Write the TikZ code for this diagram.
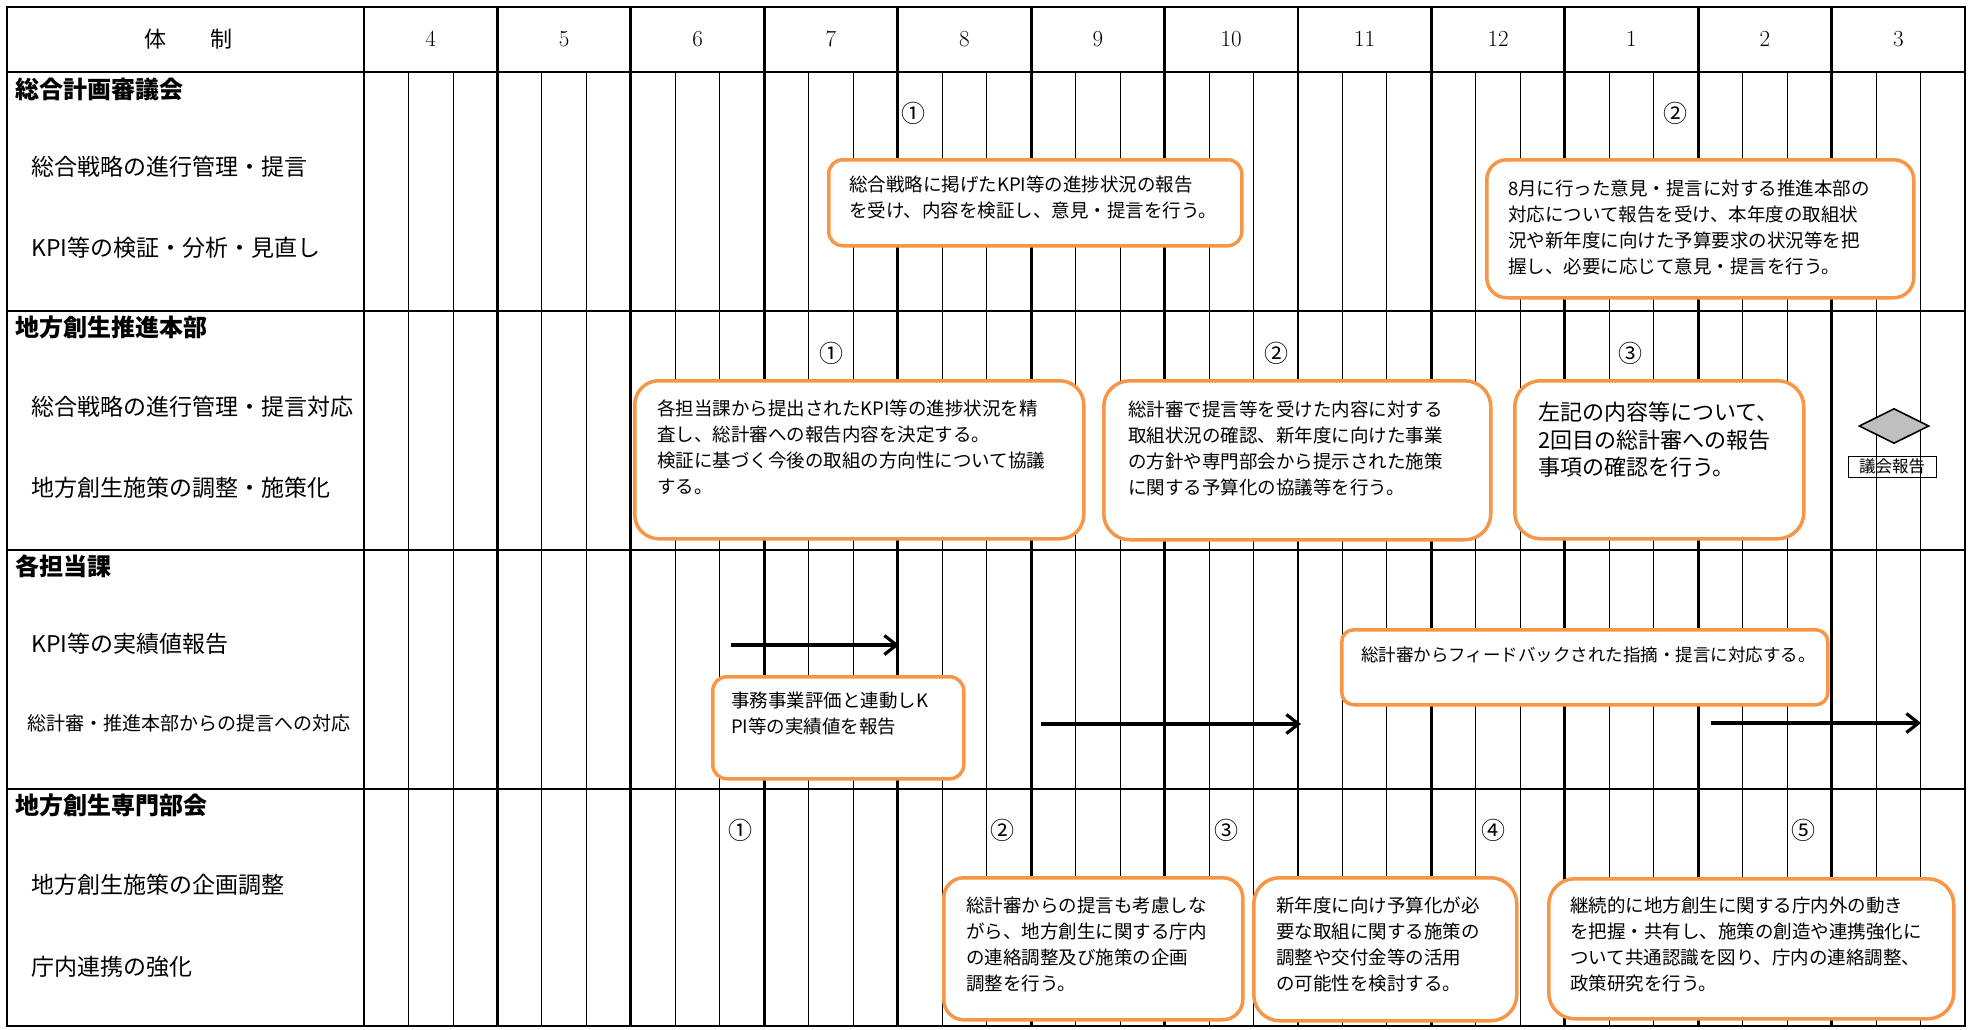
\documentclass[tikz,border=0pt]{standalone}
\usepackage{fontspec}
\newfontfamily\jp{Noto Sans CJK JP}
\usetikzlibrary{shapes.geometric,arrows.meta}
\definecolor{orng}{HTML}{F79646}
\definecolor{dgray}{HTML}{BFBFBF}
\tikzset{
  thickln/.style={line width=2.8pt},
  thinln/.style={line width=0.9pt},
  obox/.style={draw=orng, line width=3.5pt, fill=white, rounded corners=#1, inner sep=0, anchor=north west},
  obox/.default=14pt,
  btxt/.style={font=\jp\fontsize{18.5}{26}\selectfont, align=left, inner sep=0, anchor=west},
  sect/.style={font=\jp\bfseries\fontsize{24}{28}\selectfont, anchor=west, inner sep=0},
  item/.style={font=\jp\fontsize{23}{28}\selectfont, anchor=west, inner sep=0},
  circ/.style={font=\jp\fontsize{24}{26}\selectfont, inner sep=0},
  hdr/.style={font=\fontsize{23}{26}\selectfont, inner sep=0},
  arr/.style={line width=3.2pt, -{Straight Barb[length=12pt,width=19pt,line width=3.2pt]}},
}
\begin{document}
\begin{tikzpicture}[x=1pt,y=-1pt]
\useasboundingbox (0,0) rectangle (1969,1029);
\fill[white] (0,0) rectangle (1969,1029);
% grid: thin sub-columns
\foreach \k in {0,...,11} {
  \draw[thinln] ({364+133.42*\k+44.47},72) -- ({364+133.42*\k+44.47},1026);
  \draw[thinln] ({364+133.42*\k+88.95},72) -- ({364+133.42*\k+88.95},1026);
}
% month boundaries
\foreach \k in {0,...,11} \draw[thickln] ({364+133.42*\k},7) -- ({364+133.42*\k},1026);
% horizontal lines
\foreach \yy in {72,311,550,789} \draw[thickln] (7,\yy) -- (1965,\yy);
\draw[thickln] (7,7) rectangle (1965,1026);

% header
\node[font=\jp\fontsize{22}{26}\selectfont, inner sep=0] (hd) at (188,39) {体　　制};
\foreach \lbl [count=\i from 0] in {4,5,6,7,8,9,10,11,12,1,2,3}
  \node[hdr] (m\i) at ({364+133.42*(\i+0.5)},39) {\lbl};

% section titles and items
\node[sect] (s1) at (15,89) {総合計画審議会};
\node[item] (s1a) at (31,167) {総合戦略の進行管理・提言};
\node[item] (s1b) at (31,248) {KPI等の検証・分析・見直し};
\node[sect] (s2) at (15,327) {地方創生推進本部};
\node[item] (s2a) at (31,407) {総合戦略の進行管理・提言対応};
\node[item] (s2b) at (31,488) {地方創生施策の調整・施策化};
\node[sect] (s3) at (15,566) {各担当課};
\node[item] (s3a) at (31,644) {KPI等の実績値報告};
\node[item, font=\jp\fontsize{19}{24}\selectfont] (s3b) at (27,723) {総計審・推進本部からの提言への対応};
\node[sect] (s4) at (15,805) {地方創生専門部会};
\node[item] (s4a) at (31,885) {地方創生施策の企画調整};
\node[item] (s4b) at (31,967) {庁内連携の強化};

% circled numbers
\node[circ] (c11) at (913,113) {①};
\node[circ] (c12) at (1675,113) {②};
\node[circ] (c21) at (831,353) {①};
\node[circ] (c22) at (1276,353) {②};
\node[circ] (c23) at (1630,353) {③};
\node[circ] (c41) at (740,830) {①};
\node[circ] (c42) at (1002,830) {②};
\node[circ] (c43) at (1226,830) {③};
\node[circ] (c44) at (1493,830) {④};
\node[circ] (c45) at (1803,830) {⑤};

% boxes
\node[obox, minimum width=413pt, minimum height=86pt] (bA) at (827,158) {};
\node[btxt] (tA) at (849,197) {総合戦略に掲げたKPI等の進捗状況の報告\\を受け、内容を検証し、意見・提言を行う。};

\node[obox=20pt, minimum width=427pt, minimum height=138pt] (bB) at (1485,158) {};
\node[btxt] (tB) at (1508,227.5) {8月に行った意見・提言に対する推進本部の\\対応について報告を受け、本年度の取組状\\況や新年度に向けた予算要求の状況等を把\\握し、必要に応じて意見・提言を行う。};

\node[obox=24pt, minimum width=449pt, minimum height=158pt] (bC) at (633,379) {};
\node[btxt] (tC) at (657,447.5) {各担当課から提出されたKPI等の進捗状況を精\\査し、総計審への報告内容を決定する。\\検証に基づく今後の取組の方向性について協議\\する。};

\node[obox=26pt, minimum width=387pt, minimum height=159pt] (bD) at (1102,379) {};
\node[btxt] (tD) at (1128,448.5) {総計審で提言等を受けた内容に対する\\取組状況の確認、新年度に向けた事業\\の方針や専門部会から提示された施策\\に関する予算化の協議等を行う。};

\node[obox=26pt, minimum width=289pt, minimum height=158pt] (bE) at (1513,379) {};
\node[btxt, font=\jp\fontsize{22}{27.5}\selectfont] (tE) at (1538,440) {左記の内容等について、\\2回目の総計審への報告\\事項の確認を行う。};

\node[diamond, draw, fill=dgray, line width=1.6pt, minimum width=70pt, minimum height=35pt, inner sep=0, shape aspect=2] (dm) at (1894,426) {};
\node[draw, line width=1pt, minimum width=88pt, minimum height=21pt, inner sep=0, font=\jp\fontsize{16.5}{18}\selectfont] (gk) at (1892,466.5) {議会報告};

\node[obox, minimum width=251pt, minimum height=102pt] (bF) at (711,675) {};
\node[btxt] (tF) at (731,714) {事務事業評価と連動しK\\PI等の実績値を報告};

\node[obox=12pt, minimum width=486pt, minimum height=75pt] (bG) at (1340,628) {};
\node[btxt, font=\jp\fontsize{17.5}{24}\selectfont] (tG) at (1361,655) {総計審からフィードバックされた指摘・提言に対応する。};

\node[obox=20pt, minimum width=299pt, minimum height=142pt] (bH) at (942,876) {};
\node[btxt] (tH) at (966,944) {総計審からの提言も考慮しな\\がら、地方創生に関する庁内\\の連絡調整及び施策の企画\\調整を行う。};

\node[obox=26pt, minimum width=263pt, minimum height=143pt] (bI) at (1252,876) {};
\node[btxt] (tI) at (1276,944) {新年度に向け予算化が必\\要な取組に関する施策の\\調整や交付金等の活用\\の可能性を検討する。};

\node[obox=26pt, minimum width=405pt, minimum height=140pt] (bJ) at (1547,877) {};
\node[btxt] (tJ) at (1570,944) {継続的に地方創生に関する庁内外の動き\\を把握・共有し、施策の創造や連携強化に\\ついて共通認識を図り、庁内の連絡調整、\\政策研究を行う。};

% arrows
\coordinate (a1s) at (731,645); \coordinate (a1e) at (899,645);
\coordinate (a2s) at (1041,724); \coordinate (a2e) at (1301,724);
\coordinate (a3s) at (1711,723); \coordinate (a3e) at (1921,723);
\draw[arr] (a1s) -- (a1e);
\draw[arr] (a2s) -- (a2e);
\draw[arr] (a3s) -- (a3e);
\end{tikzpicture}
\end{document}
